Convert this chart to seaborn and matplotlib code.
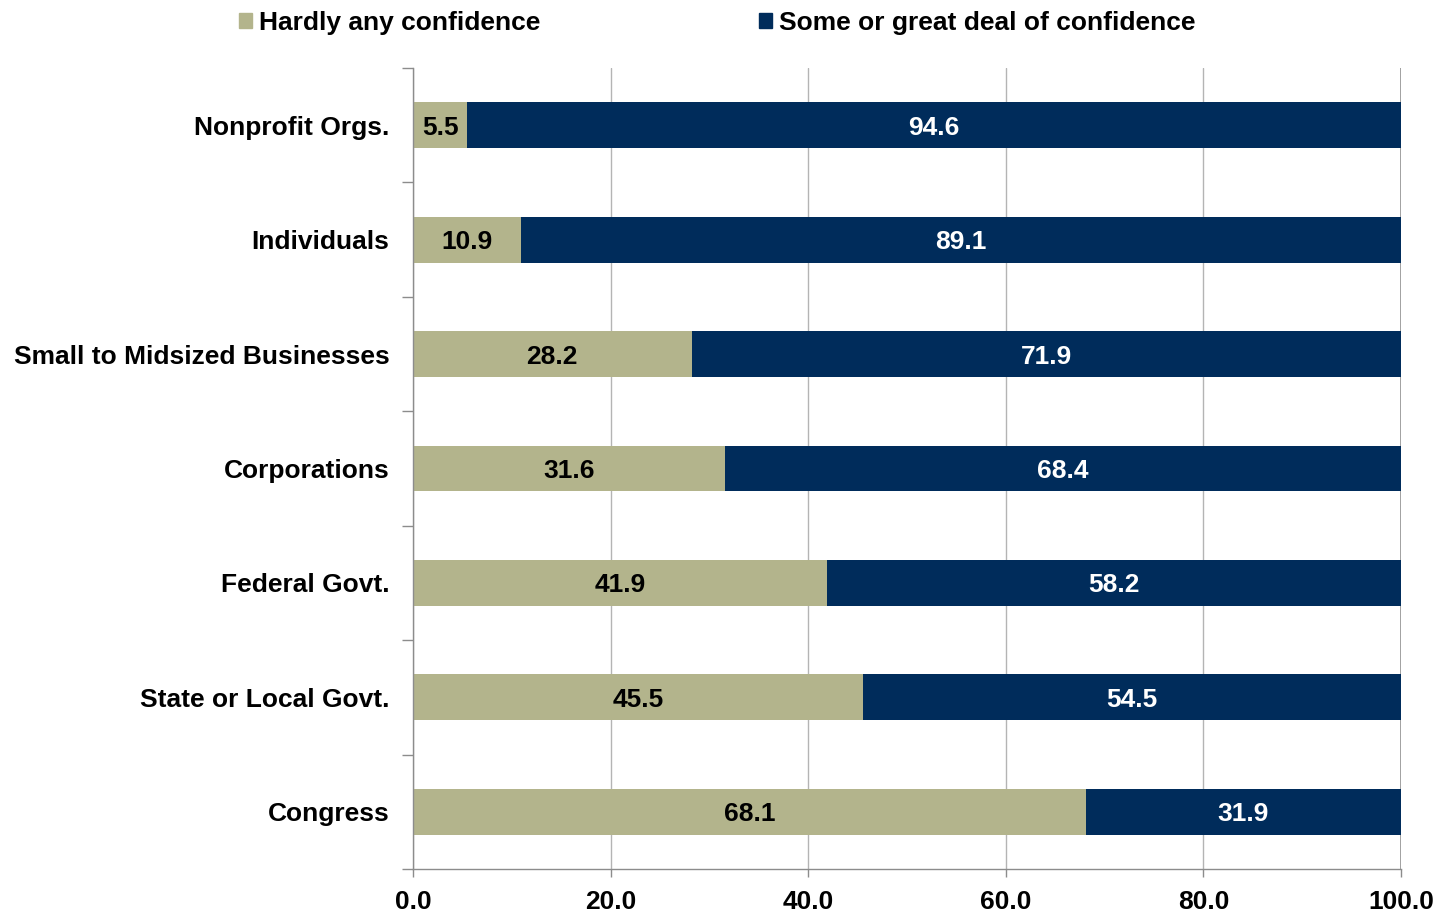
import matplotlib
matplotlib.use("Agg")
import matplotlib.pyplot as plt
import matplotlib.patches as mpatches
from matplotlib.ticker import FixedLocator
import seaborn as sns
import pandas as pd

categories = ["Nonprofit Orgs.", "Individuals", "Small to Midsized Businesses",
              "Corporations", "Federal Govt.", "State or Local Govt.", "Congress"]
hardly_any = [5.5, 10.9, 28.2, 31.6, 41.9, 45.5, 68.1]
some_or_great = [94.6, 89.1, 71.9, 68.4, 58.2, 54.5, 31.9]
series_names = ["Hardly any confidence", "Some or great deal of confidence"]
x_ticks = [0, 20, 40, 60, 80, 100]

TAN = "#B3B48C"
NAVY = "#002C5B"
FS = 19

sns.set_theme(style="white")
plt.rcParams["font.family"] = ["Liberation Sans", "DejaVu Sans"]
plt.rcParams["font.weight"] = "bold"
plt.rcParams["text.color"] = "black"
plt.rcParams["xtick.labelcolor"] = "black"
plt.rcParams["ytick.labelcolor"] = "black"

df = pd.DataFrame({
    "category": categories,
    "hardly": hardly_any,
    "some": some_or_great,
})
df["total"] = df["hardly"] + df["some"]

fig = plt.figure(figsize=(14.37, 9.13), dpi=100)
ax = fig.add_axes([413 / 1437, 1 - 869 / 913, (1401 - 413) / 1437, (869 - 68) / 913])

# stacked bars: full-length navy bar underneath, tan segment on top
sns.barplot(data=df, x="total", y="category", orient="h", color=NAVY,
            width=0.4, ax=ax, saturation=1, linewidth=0, errorbar=None)
sns.barplot(data=df, x="hardly", y="category", orient="h", color=TAN,
            width=0.4, ax=ax, saturation=1, linewidth=0, errorbar=None)

ax.set_xlim(0, 100)
ax.set_ylim(len(categories) - 0.5, -0.5)
ax.set_xlabel("")
ax.set_ylabel("")

# value labels centred on each visible segment
for i, (h, s) in enumerate(zip(hardly_any, some_or_great)):
    ax.text(h / 2, i, f"{h:.1f}", ha="center", va="center_baseline",
            fontsize=FS, fontweight="bold", color="black")
    right = min(h + s, 100)
    ax.text((h + right) / 2, i, f"{s:.1f}", ha="center", va="center_baseline",
            fontsize=FS, fontweight="bold", color="white")

# axes styling
ax.set_xticks(x_ticks)
ax.set_xticklabels([f"{t:.1f}" for t in x_ticks], fontsize=FS, fontweight="bold")
ax.tick_params(axis="x", length=6, width=1, color="#8C8C8C", pad=9, bottom=True)
ax.xaxis.grid(True, color="#B4B4B4", linewidth=1)
ax.set_axisbelow(True)

ax.set_yticks(range(len(categories)))
ax.set_yticklabels(categories, fontsize=FS, fontweight="bold")
ax.tick_params(axis="y", which="major", length=0, pad=17)
ax.yaxis.set_minor_locator(FixedLocator([i - 0.5 for i in range(len(categories) + 1)]))
ax.tick_params(axis="y", which="minor", length=8, width=1, color="#8C8C8C", left=True)

for side in ["top", "right"]:
    ax.spines[side].set_visible(False)
for side in ["left", "bottom"]:
    ax.spines[side].set_color("#8C8C8C")
    ax.spines[side].set_linewidth(1)
ax.axvline(100, color="#8C8C8C", linewidth=1.2, zorder=0.5)

handles = [mpatches.Patch(color=TAN, label=series_names[0]),
           mpatches.Patch(color=NAVY, label=series_names[1])]
fig.legend(handles=handles, loc="upper left", bbox_to_anchor=(215 / 1437, 1.014),
           ncol=2, frameon=False, handlelength=0.5, handleheight=0.5,
           handletextpad=0.25, columnspacing=8.3,
           prop={"weight": "bold", "size": FS})

fig.savefig("out.png", dpi=100)
